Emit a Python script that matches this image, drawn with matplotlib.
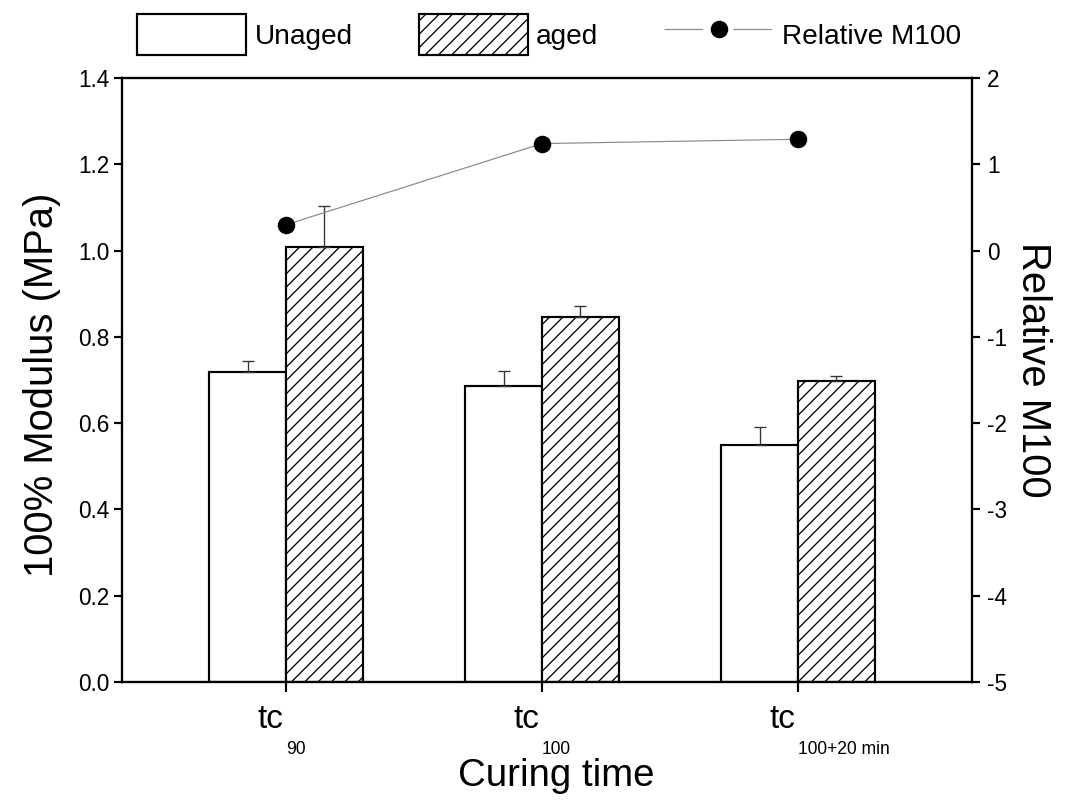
import matplotlib
matplotlib.use("Agg")
import matplotlib.pyplot as plt
import matplotlib.transforms as mtransforms
from matplotlib.patches import Patch
from matplotlib.lines import Line2D
import numpy as np

plt.rcParams['font.family'] = ['Liberation Sans', 'DejaVu Sans']
plt.rcParams['axes.unicode_minus'] = False
plt.rcParams['hatch.linewidth'] = 0.8

# curing conditions: "tc" with a subscript
cure_main = ["tc", "tc", "tc"]
cure_sub = ["90", "100", "100+20 min"]

# 100% modulus (MPa) and upper error bars
unaged = [0.719, 0.685, 0.549]
unaged_err = [0.024, 0.036, 0.043]
aged = [1.008, 0.845, 0.698]
aged_err = [0.095, 0.027, 0.012]

# relative change of M100 (right axis)
relative_m100 = [0.30, 1.24, 1.29]

x = np.arange(len(cure_sub))
w = 0.30
err_style = dict(ecolor='#333333', elinewidth=0.8, capsize=3.5, capthick=0.8)

fig = plt.figure(figsize=(1065 / 120, 805 / 120), dpi=120)
ax = fig.add_axes([122 / 1065, 123 / 805, 850 / 1065, 604 / 805])

ax.bar(x - w / 2, unaged, w, color='white', edgecolor='black', linewidth=1.3,
       yerr=[np.zeros(3), unaged_err], error_kw=err_style, zorder=2)
ax.bar(x + w / 2, aged, w, color='white', edgecolor='black', linewidth=1.3,
       hatch='///', yerr=[np.zeros(3), aged_err], error_kw=err_style, zorder=2)

ax.set_xlim(-0.641, 2.680)
ax.set_ylim(0, 1.4)
yt = np.arange(0, 1.41, 0.2)
ax.set_yticks(yt)
ax.set_yticklabels([f"{v:.1f}" for v in yt], fontsize=13.5)
ax.set_xticks(x)
ax.set_xticklabels([])
ax.tick_params(axis='x', direction='out', length=6, width=1.3)
ax.tick_params(axis='y', direction='out', length=5, width=1.3, pad=2.5)
for s in ax.spines.values():
    s.set_linewidth(1.3)

# x tick labels drawn as "tc" plus a lowered subscript
trans = mtransforms.blended_transform_factory(ax.transData, fig.transFigure)
for xi, main, sub in zip(x, cure_main, cure_sub):
    ax.text(xi - 0.01, 1 - 719 / 805, main, transform=trans, ha='right',
            va='center', fontsize=20)
    ax.text(xi + 0.0, 1 - 749 / 805, sub, transform=trans, ha='left',
            va='center', fontsize=10.5)

fig.text(556 / 1065, 1 - 776 / 805, "Curing time", ha='center',
         va='center', fontsize=23)
fig.text(42 / 1065, 1 - 385 / 805, "100% Modulus (MPa)", rotation=90,
         ha='center', va='center', fontsize=24)

ax2 = ax.twinx()
ax2.plot(x, relative_m100, color='#888888', linewidth=0.7, marker='o',
         markersize=9.5, markerfacecolor='black', markeredgecolor='black',
         zorder=3)
ax2.set_ylim(-5, 2)
ax2.set_yticks(np.arange(-5, 3))
ax2.set_yticklabels([str(v) for v in range(-5, 3)], fontsize=13.5)
ax2.tick_params(axis='y', direction='out', length=5, width=1.3, pad=4)
for s in ax2.spines.values():
    s.set_linewidth(1.3)
fig.text(1033 / 1065, 1 - 370 / 805, "Relative M100", rotation=-90,
         ha='center', va='center', fontsize=24)

# legend above the frame; the line entry has gaps on both sides of the dot
line_handle = Line2D([], [], color='#888888', linewidth=0.7, marker='o',
                     markersize=9.5, markerfacecolor='black',
                     markeredgecolor='black', dashes=(33, 26))
handles = [
    Patch(facecolor='white', edgecolor='black', linewidth=1.3),
    Patch(facecolor='white', edgecolor='black', linewidth=1.3, hatch='///'),
    line_handle,
]
fig.legend(handles, ["Unaged", "aged", "Relative M100"], ncol=3,
           loc='upper left', bbox_to_anchor=(137 / 1065, 1 - 14 / 805),
           frameon=False, borderpad=0, borderaxespad=0,
           handlelength=3.9, handleheight=1.9, handletextpad=0.3,
           columnspacing=2.35, fontsize=16.8)

fig.savefig("out.png", dpi=120)
